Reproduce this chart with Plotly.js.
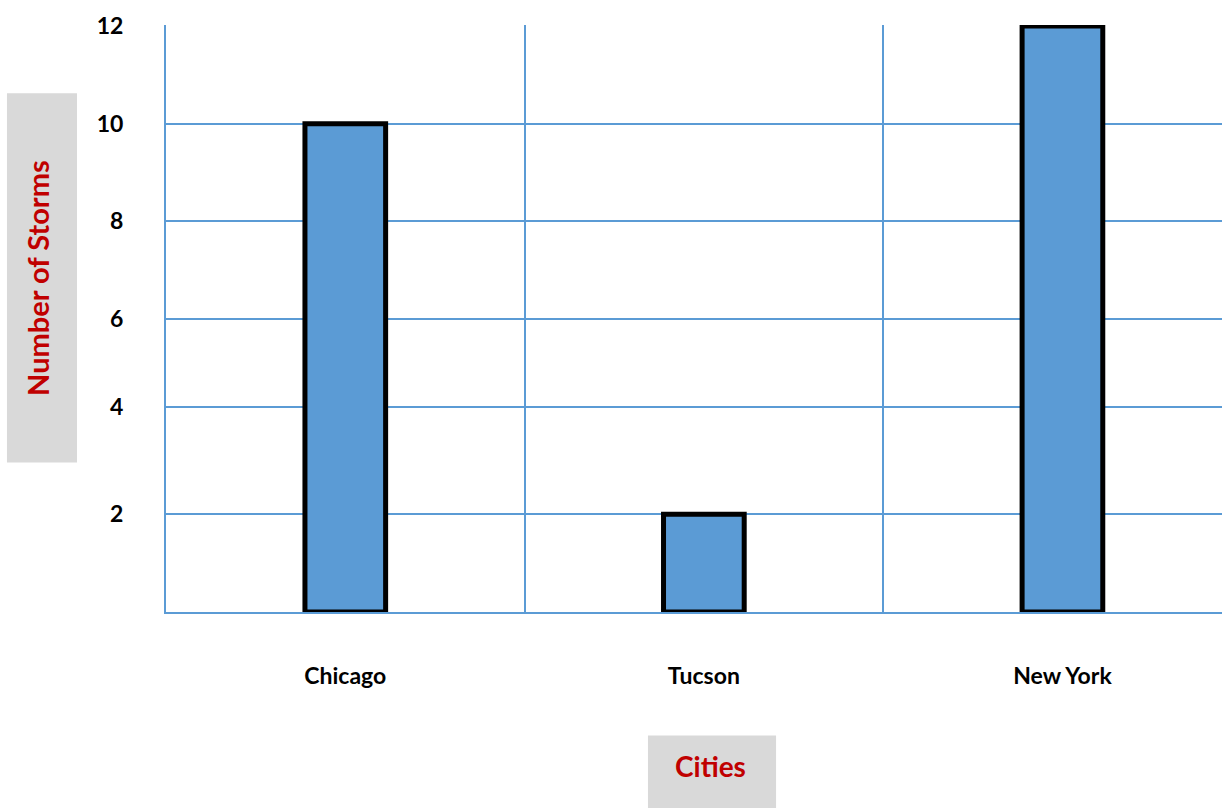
<!DOCTYPE html>
<html>
<head>
<meta charset="utf-8">
<script src="https://cdn.plot.ly/plotly-3.0.1.min.js"></script>
<style>html,body{margin:0;padding:0;background:#fff}#chart{width:1222px;height:808px}</style>
</head>
<body>
<div id="chart"></div>
<script>
const cities = ["Chicago", "Tucson", "New York"];
const storms = [10, 2, 12];
const yTickVals = [2, 4.2, 6, 8, 10, 12];
const yTickText = ["2", "4", "6", "8", "10", "12"];
const xTitle = "Cities";
const yTitle = "Number of Storms";

const gridBlue = "#5B9BD5";
const font = "Lato, 'Open Sans', sans-serif";

const trace = {
  type: "bar",
  x: cities,
  y: storms,
  width: 0.225,
  marker: { color: "#5B9BD5", line: { color: "#000000", width: 5 } },
  hoverinfo: "x+y"
};

const layout = {
  width: 1222, height: 808,
  margin: { l: 166, r: 0, t: 25, b: 196 },
  paper_bgcolor: "#ffffff", plot_bgcolor: "#ffffff",
  showlegend: false,
  font: { family: font, size: 20, color: "#000" },
  xaxis: {
    type: "category",
    range: [-0.5, 2.445],
    tickson: "boundaries",
    showgrid: true, gridcolor: gridBlue, gridwidth: 2,
    showline: true, linecolor: gridBlue, linewidth: 2,
    ticks: "", ticklabelstandoff: 42,
    tickfont: { family: font, size: 23, color: "#000", weight: "bold" },
    fixedrange: true
  },
  yaxis: {
    range: [0, 12.02],
    tickmode: "array", tickvals: yTickVals, ticktext: yTickText,
    showgrid: true, gridcolor: gridBlue, gridwidth: 2,
    zeroline: false,
    showline: true, linecolor: gridBlue, linewidth: 2,
    ticks: "", ticklabelstandoff: 36,
    tickfont: { family: font, size: 23, color: "#000", weight: "bold" },
    fixedrange: true
  },
  shapes: [
    { type: "rect", xref: "paper", yref: "paper", x0: -0.1506, x1: -0.0843, y0: 0.2547, y1: 0.8838,
      fillcolor: "#D9D9D9", line: { width: 0 }, layer: "below" },
    { type: "rect", xref: "paper", yref: "paper", x0: 0.4564, x1: 0.5777, y0: -0.335, y1: -0.2103,
      fillcolor: "#D9D9D9", line: { width: 0 }, layer: "below" }
  ],
  annotations: [
    {
      text: "<b>" + yTitle + "</b>", xref: "paper", yref: "paper",
      x: -0.1212, y: 0.5692, xanchor: "center", yanchor: "middle",
      textangle: -90, showarrow: false,
      font: { family: font, size: 29, color: "#C00000" }
    },
    {
      text: "<b>" + xTitle + "</b>", xref: "paper", yref: "paper",
      x: 0.516, y: -0.2615, xanchor: "center", yanchor: "middle",
      showarrow: false,
      font: { family: font, size: 28, color: "#C00000" }
    }
  ]
};

Plotly.newPlot("chart", [trace], layout, { displayModeBar: false, staticPlot: true });
</script>
</body>
</html>
